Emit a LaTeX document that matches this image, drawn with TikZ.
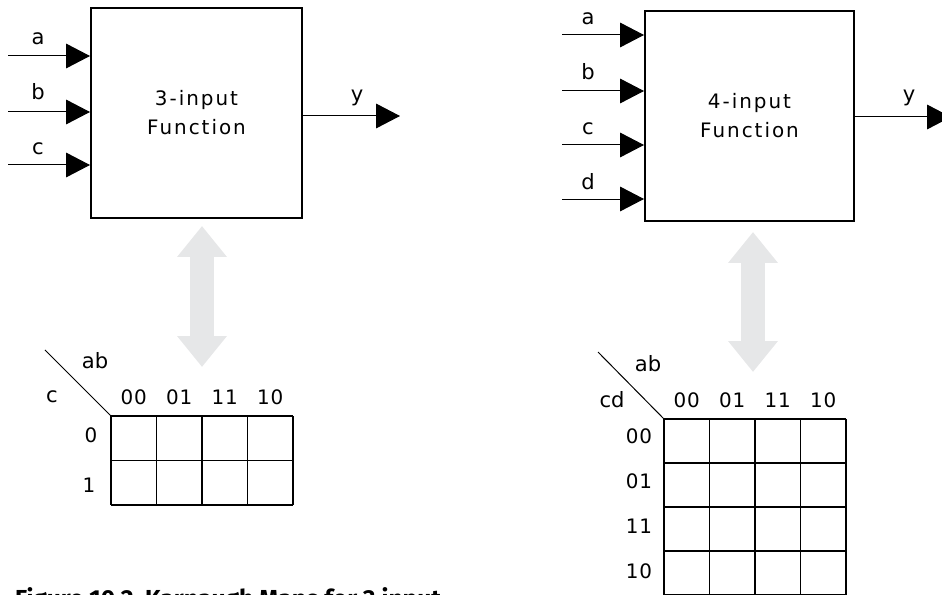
\documentclass[tikz,border=0pt]{standalone}
\usepackage{fontspec}
\setmainfont{DejaVu Sans}
\newfontfamily\boxfont{DejaVu Sans}[LetterSpace=10]
\newfontfamily\digfont{DejaVu Sans}[LetterSpace=5]
\newfontfamily\capfont{Fira Sans}
\usetikzlibrary{arrows.meta}
\definecolor{kgray}{HTML}{E6E7E8}

\begin{document}
\begin{tikzpicture}[x=0.03cm,y=-0.03cm,
    lbl/.style={font=\fontsize{18}{21}\selectfont, inner sep=0pt, anchor=base},
    dig/.style={font=\digfont\fontsize{17}{20}\selectfont, inner sep=0pt, anchor=base},
    fbox/.style={draw, line width=1.7pt, align=center,
      font=\boxfont\fontsize{17}{24.7}\selectfont},
    sig/.style={line width=0.85pt, -{Triangle[length=20.4pt,width=21pt]}},
    twoway/.style={kgray, line width=20.4pt,
      {Triangle[length=26.4pt,width=40.8pt]}-{Triangle[length=26.4pt,width=40.8pt]}},
    cell/.style={line width=1.4pt},
    caption/.style={font=\capfont\bfseries\fontsize{21}{24}\selectfont, inner sep=0pt}]
  \clip (0,0) rectangle (942,595);
  % 3-input block
  \node[fbox, minimum width=6.33cm, minimum height=6.3cm] (box3) at (196.5,113) {3-input\\Function};
  \coordinate (ia3) at (8,56);
  \coordinate (ib3) at (8,112);
  \coordinate (ic3) at (8,165);
  \coordinate (oy3) at (400,116);
  \draw[sig] (ia3) -- (ia3 -| box3.west);
  \draw[sig] (ib3) -- (ib3 -| box3.west);
  \draw[sig] (ic3) -- (ic3 -| box3.west);
  \draw[sig] (box3.east |- oy3) -- (oy3);
  \node[lbl] (la3) at (38,45) {a};
  \node[lbl] (lb3) at (38,100) {b};
  \node[lbl] (lc3) at (38,155) {c};
  \node[lbl] (ly3) at (357,102) {y};
  % 4-input block
  \node[fbox, minimum width=6.27cm, minimum height=6.3cm] (box4) at (749.5,116) {4-input\\Function};
  \coordinate (ia4) at (562,35);
  \coordinate (ib4) at (562,91);
  \coordinate (ic4) at (562,145);
  \coordinate (id4) at (562,199);
  \coordinate (oy4) at (951,117);
  \draw[sig] (ia4) -- (ia4 -| box4.west);
  \draw[sig] (ib4) -- (ib4 -| box4.west);
  \draw[sig] (ic4) -- (ic4 -| box4.west);
  \draw[sig] (id4) -- (id4 -| box4.west);
  \draw[sig] (box4.east |- oy4) -- (oy4);
  \node[lbl] (la4) at (588,25) {a};
  \node[lbl] (lb4) at (588,80) {b};
  \node[lbl] (lc4) at (588,135) {c};
  \node[lbl] (ld4) at (588,190) {d};
  \node[lbl] (ly4) at (909,102) {y};
  % grey two-way arrows
  \coordinate (up3) at (202,226);
  \coordinate (dn3) at (202,367);
  \coordinate (up4) at (753,232);
  \coordinate (dn4) at (753,372);
  \draw[twoway] (up3) -- (dn3);
  \draw[twoway] (up4) -- (dn4);
  % 3-variable map
  \coordinate (k3) at (111,416);
  \coordinate (d3) at (45,350);
  \draw[line width=0.85pt] (d3) -- (k3);
  \foreach \i in {0,...,4} \draw[cell] (111+\i*45.5,416) -- (111+\i*45.5,505);
  \foreach \j in {0,...,2} \draw[cell] (111,416+\j*44.5) -- (293,416+\j*44.5);
  \node[lbl] (ab3) at (95,368) {ab};
  \node[lbl] (cc3) at (52,403) {c};
  \foreach \t [count=\i from 0] in {00,01,11,10}
    \node[dig] (col3\i) at (133.75+\i*45.5,405) {\t};
  \node[dig] (row30) at (91,442) {0};
  \node[dig] (row31) at (89,492) {1};
  % 4-variable map
  \coordinate (k4) at (664,419);
  \coordinate (d4) at (598,352);
  \draw[line width=0.85pt] (d4) -- (k4);
  \foreach \i in {0,...,4} \draw[cell] (664+\i*45.5,419) -- (664+\i*45.5,595);
  \foreach \j in {0,...,4} \draw[cell] (664,419+\j*44) -- (846,419+\j*44);
  \node[lbl] (ab4) at (648,372) {ab};
  \node[lbl] (cd4) at (612,407) {cd};
  \foreach \t [count=\i from 0] in {00,01,11,10}
    \node[dig] (col4\i) at (686.75+\i*45.5,407) {\t};
  \foreach \t [count=\j from 0] in {00,01,11,10}
    \node[dig] (row4\j) at (639,443+\j*45) {\t};
  % caption
  \node[caption, anchor=north west] (cap) at (15,587) {Figure 10.2\ \ Karnaugh Maps for 3 input};
\end{tikzpicture}
\end{document}
